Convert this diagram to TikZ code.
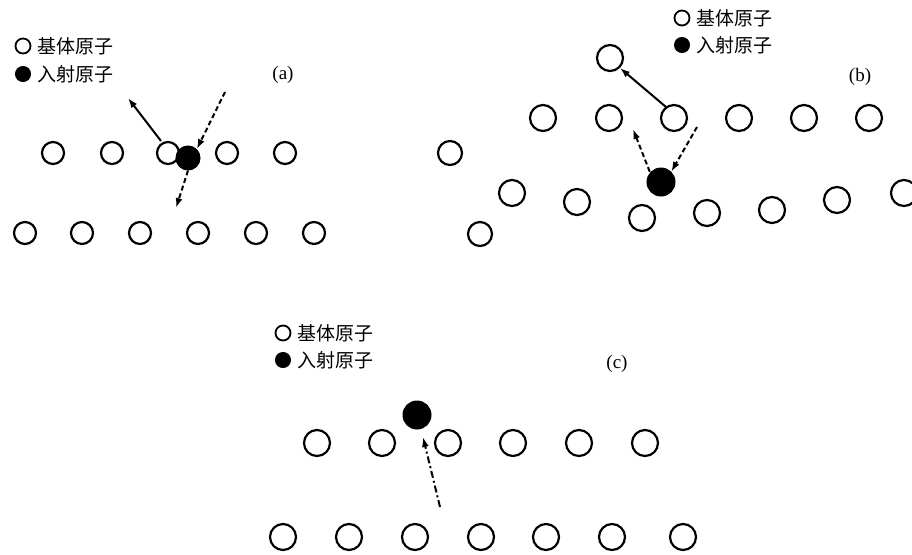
\documentclass[tikz,border=0pt]{standalone}
\usepackage{fontspec}
\setmainfont{Liberation Serif}
\newfontfamily\cjk{Noto Sans CJK SC}
\usetikzlibrary{arrows.meta}
\tikzset{
  openatom/.style={circle,draw=black,line width=2.2pt,fill=white,inner sep=0pt,minimum size=#1},
  openatom/.default=22pt,
  fullatom/.style={circle,fill=black,draw=black,line width=1pt,inner sep=0pt,minimum size=#1},
  fullatom/.default=24pt,
  legtext/.style={anchor=west,inner sep=0pt,font=\cjk\fontsize{19}{19}\selectfont},
  panellabel/.style={inner sep=0pt,font=\fontsize{19}{19}\selectfont},
  arr/.style={line width=2pt,-{Latex[length=10pt,width=7pt]}},
  dsh/.style={arr,dash pattern=on 5pt off 3pt},
  dshdot/.style={arr,dash pattern=on 7pt off 3pt on 2pt off 3pt},
}
\begin{document}
\begin{tikzpicture}[x=1pt,y=-1pt]
\useasboundingbox (0,0) rectangle (912,554);
% ---------- panel (a) ----------
\node[openatom=15pt,line width=1.8pt] (la1) at (23,46) {};
\node[legtext] (lta1) at (37,46) {基体原子};
\node[fullatom=15pt] (la2) at (23,74) {};
\node[legtext] (lta2) at (37,74) {入射原子};
\node[panellabel] (pa) at (283,75) {(a)};
\foreach \i/\x in {1/53,2/112,3/168,4/227,5/285}
  \node[openatom] (ar\i) at (\x,153) {};
\foreach \i/\x in {1/25,2/82,3/140,4/198,5/256,6/314}
  \node[openatom] (as\i) at (\x,233) {};
\node[fullatom] (ai) at (188,158) {};
\coordinate (aout) at (128,98);
\coordinate (ain) at (225,92);
\coordinate (adown) at (176,208);
\draw[arr] (161,141) -- (aout);
\draw[dsh] (ain) -- (ai.north east);
\draw[dsh] (ai.south) -- (adown);
% ---------- panel (b) ----------
\node[openatom=15pt,line width=1.8pt] (lb1) at (682,18) {};
\node[legtext] (ltb1) at (696,18) {基体原子};
\node[fullatom=15pt] (lb2) at (682,45) {};
\node[legtext] (ltb2) at (696,45) {入射原子};
\node[panellabel] (pb) at (860,77) {(b)};
\node[openatom=26pt] (btop) at (610,58) {};
\foreach \i/\x in {1/543,2/609,3/674,4/739,5/804,6/869}
  \node[openatom=26pt] (br\i) at (\x,118) {};
\node[openatom=24pt] (bl) at (450,153) {};
\node[openatom=26pt] (bs1) at (512,193) {};
\node[openatom=26pt] (bs2) at (577,202) {};
\node[openatom=26pt] (bs3) at (642,218) {};
\node[openatom=26pt] (bs4) at (707,213) {};
\node[openatom=26pt] (bs5) at (772,210) {};
\node[openatom=26pt] (bs6) at (837,200) {};
\node[openatom=26pt] (bs7) at (904,193) {};
\node[openatom=24pt] (bs0) at (480,234) {};
\node[fullatom=28pt] (bi) at (661,182) {};
\coordinate (bin) at (697,127);
\coordinate (bup) at (633,129);
\draw[arr] (br3.north west) ++(2,-1) -- (btop.south east);
\draw[dsh] (bin) -- (bi.north east);
\draw[dsh] (bi.north west) ++(-1,0) -- (bup);
% ---------- panel (c) ----------
\node[openatom=15pt,line width=1.8pt] (lc1) at (283,333) {};
\node[legtext] (ltc1) at (297,333) {基体原子};
\node[fullatom=15pt] (lc2) at (283,360) {};
\node[legtext] (ltc2) at (297,360) {入射原子};
\node[panellabel] (pc) at (617,364) {(c)};
\foreach \i/\x in {1/317,2/382,3/448,4/513,5/579,6/645}
  \node[openatom=26pt] (cr\i) at (\x,443) {};
\foreach \i/\x in {1/283,2/349,3/415,4/481,5/546,6/612,7/683}
  \node[openatom=26pt] (cs\i) at (\x,537) {};
\node[fullatom=28pt] (ci) at (417,415) {};
\coordinate (cfrom) at (440,507);
\draw[dshdot] (cfrom) -- (423,437);
\end{tikzpicture}
\end{document}
